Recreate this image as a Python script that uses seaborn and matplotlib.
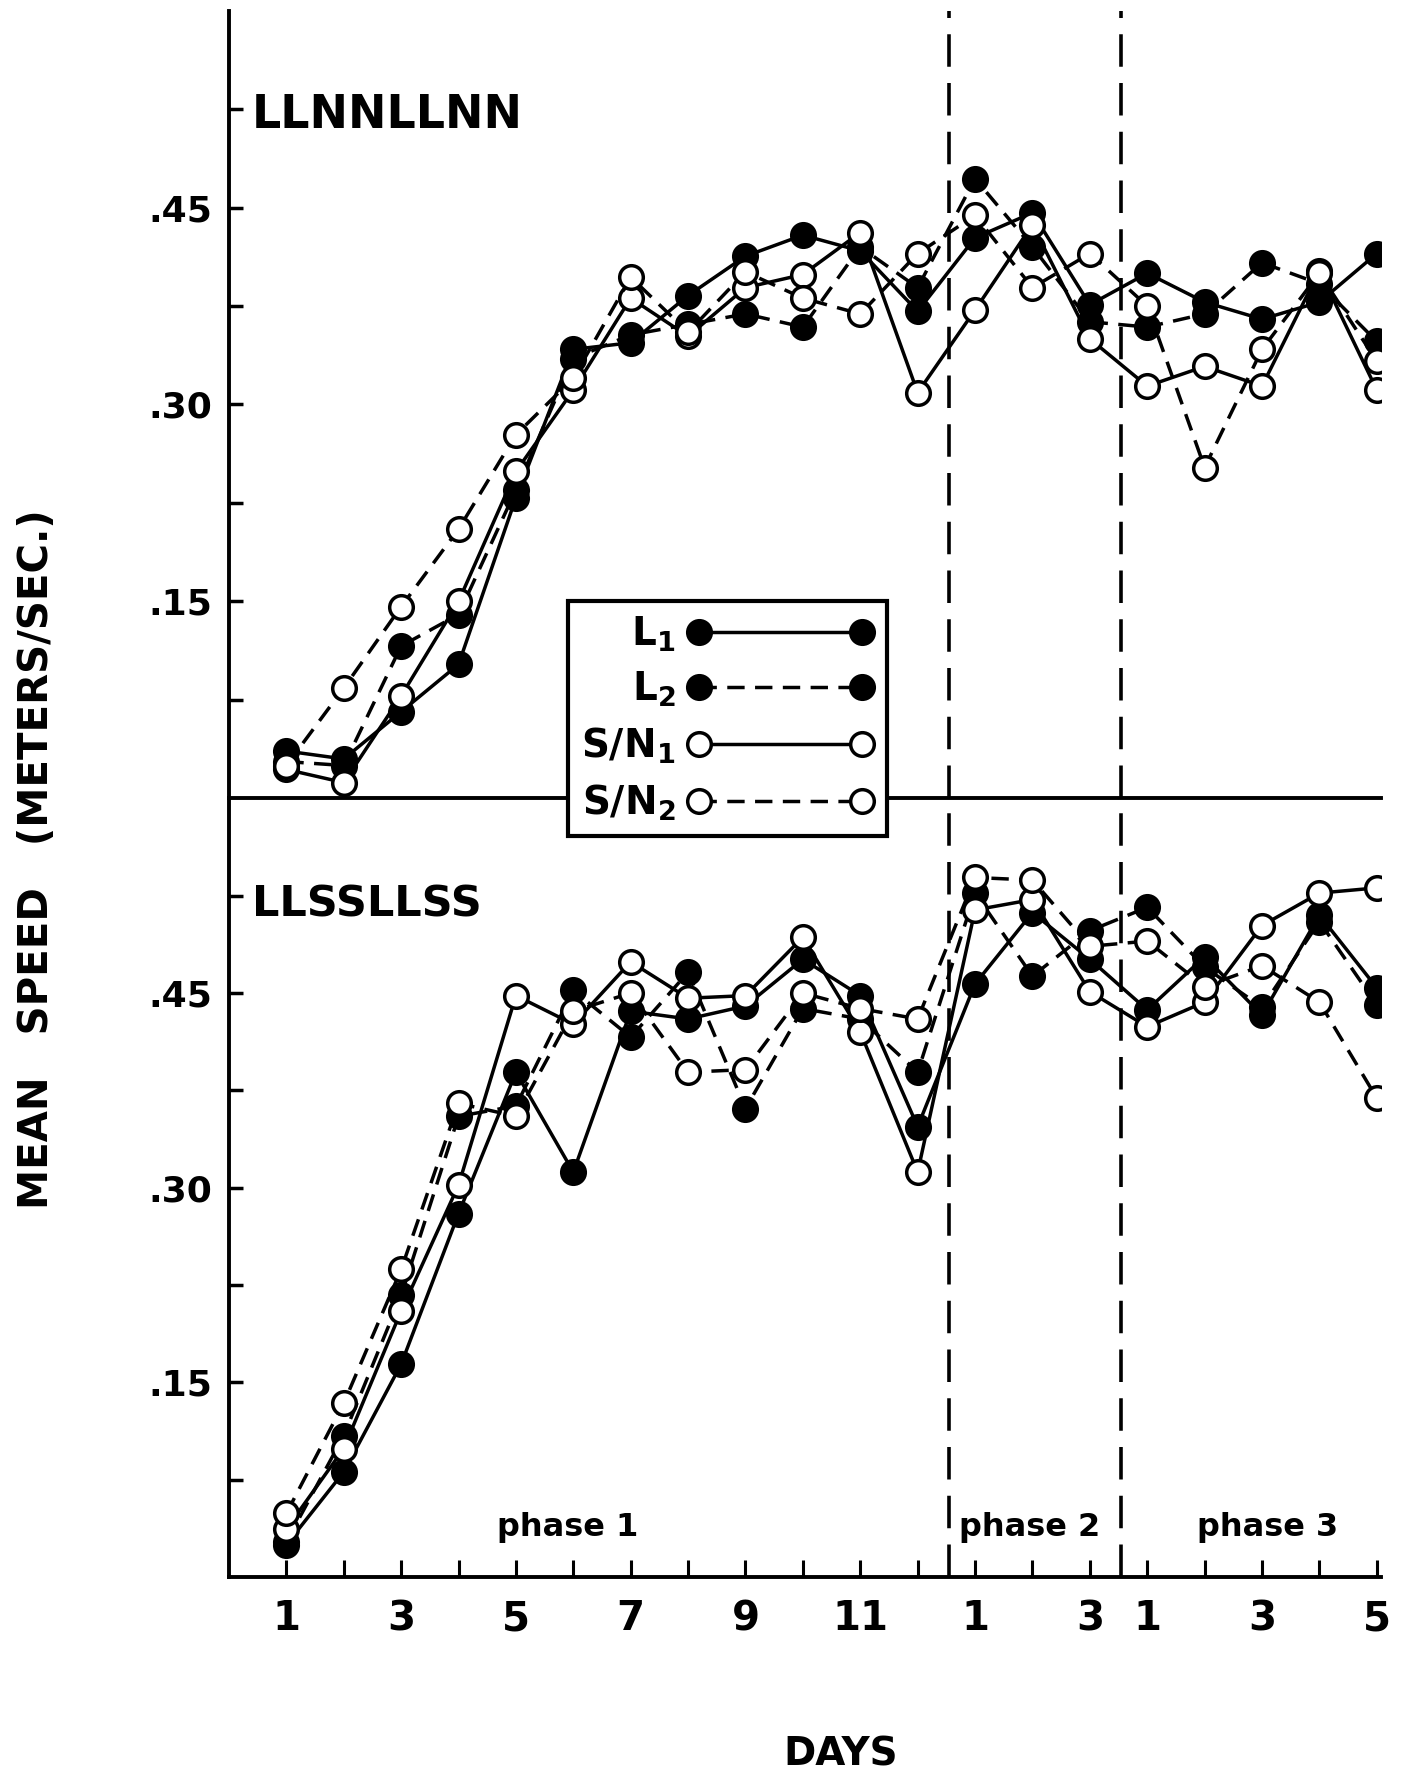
import matplotlib
matplotlib.use("Agg")

import numpy as np
import pandas as pd
import matplotlib.pyplot as plt
import seaborn as sns

sns.set_style("white")
plt.rcParams["font.family"] = ["DejaVu Sans"]
plt.rcParams["font.weight"] = "bold"
plt.rcParams["mathtext.default"] = "bf"
for k in ["text.color", "axes.labelcolor", "xtick.color", "ytick.color", "axes.edgecolor"]:
    plt.rcParams[k] = "black"

# 12 days phase 1, 3 days phase 2, 5 days phase 3
day_labels = ["1", "", "3", "", "5", "", "7", "", "9", "", "11", "",
              "1", "", "3",
              "1", "", "3", "", "5"]
y_ticks = [0.15, 0.30, 0.45]
y_tick_labels = [".15", ".30", ".45"]
minor_ticks = [0.075, 0.225, 0.375, 0.525]

# LLNNLLNN (top)
top_L1 = [0.036, 0.030, 0.066, 0.102, 0.229, 0.342, 0.347, 0.383, 0.413, 0.429, 0.417, 0.371,
          0.427, 0.446, 0.376, 0.400, 0.378, 0.365, 0.378, 0.415]
top_L2 = [0.028, 0.025, 0.116, 0.140, 0.235, 0.335, 0.353, 0.361, 0.369, 0.359, 0.420, 0.389,
          0.472, 0.420, 0.363, 0.359, 0.369, 0.408, 0.392, 0.348]
top_SN1 = [0.022, 0.012, 0.078, 0.150, 0.249, 0.311, 0.381, 0.352, 0.389, 0.399, 0.431, 0.309,
           0.372, 0.437, 0.350, 0.314, 0.329, 0.314, 0.402, 0.311]
top_SN2 = [0.025, 0.084, 0.146, 0.205, 0.277, 0.320, 0.397, 0.355, 0.401, 0.381, 0.369, 0.415,
           0.444, 0.389, 0.415, 0.375, 0.252, 0.342, 0.400, 0.333]

# LLSSLLSS (bottom)
bot_L1 = [0.025, 0.081, 0.164, 0.280, 0.389, 0.312, 0.436, 0.430, 0.440, 0.476, 0.448, 0.347,
          0.457, 0.512, 0.476, 0.437, 0.478, 0.433, 0.510, 0.454]
bot_L2 = [0.027, 0.109, 0.217, 0.355, 0.363, 0.452, 0.416, 0.466, 0.361, 0.438, 0.430, 0.389,
          0.527, 0.463, 0.498, 0.516, 0.470, 0.439, 0.505, 0.441]
bot_SN1 = [0.037, 0.099, 0.205, 0.302, 0.448, 0.426, 0.474, 0.446, 0.448, 0.493, 0.420, 0.312,
           0.514, 0.522, 0.451, 0.424, 0.443, 0.502, 0.527, 0.531]
bot_SN2 = [0.049, 0.134, 0.237, 0.365, 0.355, 0.436, 0.450, 0.389, 0.391, 0.450, 0.438, 0.430,
           0.539, 0.537, 0.486, 0.490, 0.455, 0.471, 0.443, 0.369]

x = np.arange(len(day_labels))
dash = (0, (5, 3))
styles = {
    "L$_1$": dict(mfc="black", ls="-"),
    "L$_2$": dict(mfc="black", ls=dash),
    "S/N$_1$": dict(mfc="white", ls="-"),
    "S/N$_2$": dict(mfc="white", ls=dash),
}

fig = plt.figure(figsize=(14.09, 17.78), dpi=100)
ax_top = fig.add_axes([0.1625, 0.551, 0.8175, 0.443])
ax_bot = fig.add_axes([0.1625, 0.113, 0.8175, 0.438])


def draw(ax, series):
    ax.patch.set_visible(False)
    for (name, st), vals in zip(styles.items(), series):
        df = pd.DataFrame({"day": x, "speed": vals})
        sns.lineplot(data=df, x="day", y="speed", ax=ax, color="black", lw=2.5,
                     linestyle=st["ls"], marker="o", markersize=17,
                     markerfacecolor=st["mfc"], markeredgecolor="black",
                     markeredgewidth=2.5, label=name, legend=False)
    ax.set_xlim(-1, 19.07)
    ax.set_ylim(0, 0.6)
    ax.set_xlabel("")
    ax.set_ylabel("")
    for s in ["top", "right"]:
        ax.spines[s].set_visible(False)
    for s in ["left", "bottom"]:
        ax.spines[s].set_linewidth(2.8)
        ax.spines[s].set_color("black")
    ax.set_yticks(y_ticks)
    ax.set_yticklabels(y_tick_labels, fontsize=26, fontweight="bold")
    ax.set_yticks(minor_ticks, minor=True)
    ax.tick_params(axis="y", which="both", direction="in", length=10, width=2.5,
                   pad=12, left=True)
    for xv in [11.55, 14.55]:
        ax.axvline(xv, color="black", lw=2.6, ls=(0, (9, 4.5)), zorder=1)


draw(ax_top, [top_L1, top_L2, top_SN1, top_SN2])
draw(ax_bot, [bot_L1, bot_L2, bot_SN1, bot_SN2])

ax_top.set_xticks([])
ax_bot.set_xticks(x)
ax_bot.set_xticklabels(day_labels, fontsize=29, fontweight="bold")
ax_bot.tick_params(axis="x", direction="in", length=12, width=2.2, pad=16, bottom=True)

ax_top.text(-0.6, 0.52, "LLNNLLNN", fontsize=33, fontweight="bold", va="center", ha="left")
ax_bot.text(-0.6, 0.518, "LLSSLLSS", fontsize=31, fontweight="bold", va="center", ha="left")

for xp, txt in [(4.9, "phase 1"), (12.95, "phase 2"), (17.1, "phase 3")]:
    ax_bot.text(xp, 0.038, txt, fontsize=23, fontweight="bold", ha="center", va="center")

fig.text(0.597, 0.013, "DAYS", fontsize=28, fontweight="bold", ha="center", va="center")
fig.text(0.026, 0.517, "MEAN   SPEED   (METERS/SEC.)", fontsize=29, fontweight="bold",
         rotation=90, ha="center", va="center")

handles, labels = ax_top.get_legend_handles_labels()
leg = fig.legend(handles, labels, loc="upper left", bbox_to_anchor=(0.389, 0.673),
                 markerfirst=False, numpoints=2, handlelength=4.8, fontsize=28,
                 frameon=True, fancybox=False, framealpha=1, edgecolor="black",
                 borderpad=0.35, labelspacing=0.42, handletextpad=0.3)
leg.get_frame().set_linewidth(3)

fig.savefig("out.png", dpi=100, facecolor="white")
